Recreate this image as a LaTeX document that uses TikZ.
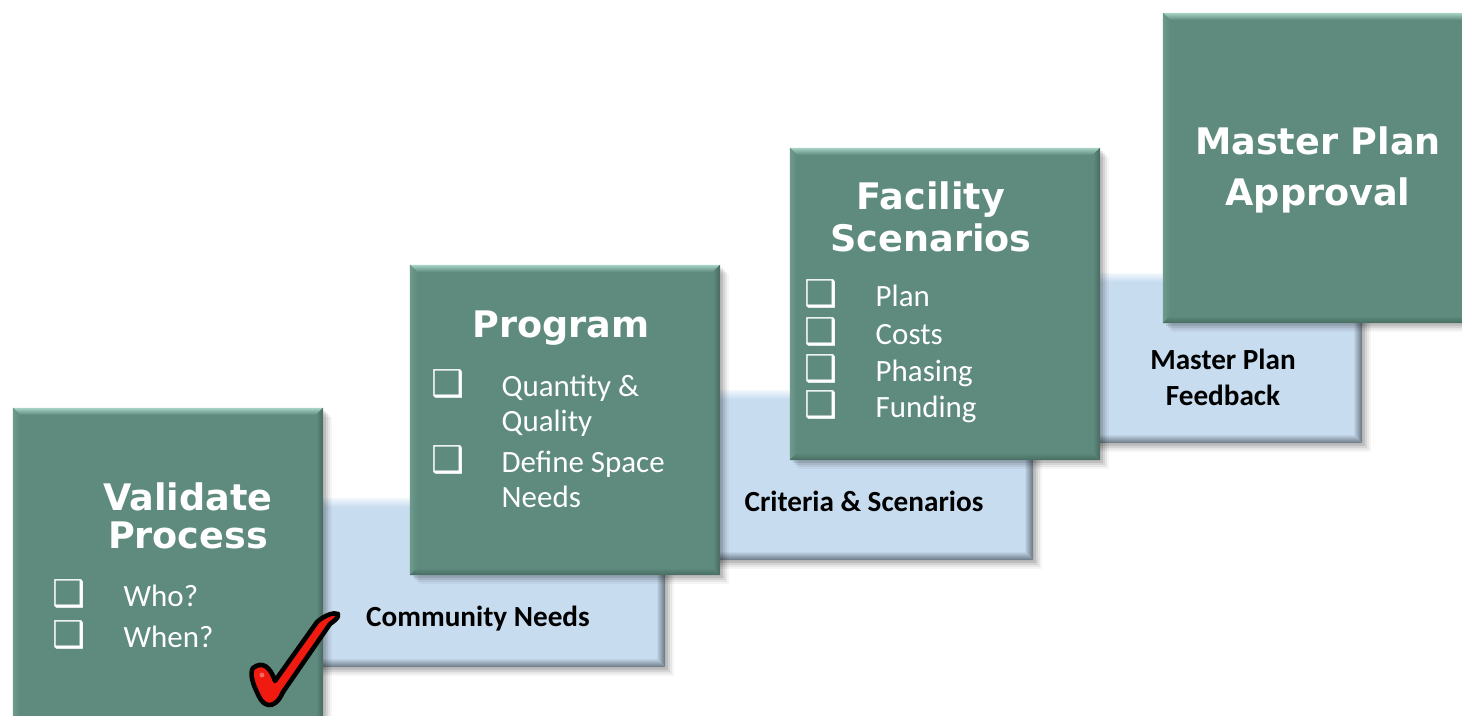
\documentclass[tikz,border=0pt]{standalone}
\usepackage{fontspec}
\setmainfont{Carlito}
\newfontfamily\vfont{DejaVu Sans}
\newfontfamily\dvs{DejaVu Sans}
\definecolor{gmain}{HTML}{5E8B7E}
\definecolor{gtop}{HTML}{A6D3C6}
\definecolor{gleft}{HTML}{6D9A8D}
\definecolor{gright}{HTML}{49695F}
\definecolor{gbot}{HTML}{486C61}
\definecolor{bmain}{HTML}{C8DCF0}
\definecolor{btop}{HTML}{F2F8FD}
\definecolor{bleft}{HTML}{DCE9F6}
\definecolor{bright}{HTML}{66737E}
\definecolor{bbot}{HTML}{6A7782}
\definecolor{chkred}{HTML}{F01A10}
\tikzset{
  boxshape/.style={rectangle, inner sep=0pt, outer sep=0pt},
  ttl/.style={text=white, align=center, font=\vfont\bfseries\fontsize{10.4}{10.8}\selectfont},
  itm/.style={text=white, anchor=base west, inner sep=0pt, font=\fontsize{8.8}{10}\selectfont},
  chk/.style={text=white, anchor=base west, inner sep=0pt, font=\dvs\fontsize{10.5}{12}\selectfont},
  lbl/.style={text=black, align=center, font=\bfseries\fontsize{8.3}{10.2}\selectfont},
}
\newcommand\softshadow[1]{%
  \foreach \s/\o in {0.03/0.10,0.05/0.08,0.07/0.06,0.09/0.04}{%
    \fill[black, opacity=\o] ([shift={(\s cm,-\s cm)}]#1.south west) rectangle ([shift={(\s cm,-\s cm)}]#1.north east);}}
\newcommand\bevelbox[7]{% name, width, main, top, left, right, bottom
  \softshadow{#1}
  \fill[#3] (#1.south west) rectangle (#1.north east);
  \shade[top color=#4, bottom color=#3] (#1.north west) -- (#1.north east) -- ([shift={(-#2,-#2)}]#1.north east) -- ([shift={(#2,-#2)}]#1.north west) -- cycle;
  \shade[left color=#5, right color=#3] (#1.north west) -- ([shift={(#2,-#2)}]#1.north west) -- ([shift={(#2,#2)}]#1.south west) -- (#1.south west) -- cycle;
  \shade[left color=#3, right color=#6] (#1.north east) -- ([shift={(-#2,-#2)}]#1.north east) -- ([shift={(-#2,#2)}]#1.south east) -- (#1.south east) -- cycle;
  \shade[top color=#3, bottom color=#7] (#1.south west) -- ([shift={(#2,#2)}]#1.south west) -- ([shift={(-#2,#2)}]#1.south east) -- (#1.south east) -- cycle;
}
\newcommand\gbox[1]{\bevelbox{#1}{0.07cm}{gmain}{gtop}{gleft}{gright}{gbot}}
\newcommand\bbar[1]{\bevelbox{#1}{0.09cm}{bmain}{btop}{bleft}{bright}{bbot}}
\begin{document}
\begin{tikzpicture}[x=0.01cm, y=-0.01cm]
\useasboundingbox (0,0) rectangle (1462,716);
\clip (0,0) rectangle (1462,716);
\fill[white] (0,0) rectangle (1462,716);
% geometry
\path node[boxshape, minimum width=3.65cm, minimum height=1.69cm] (community) at (482.5,582.5) {};
\path node[boxshape, minimum width=3.33cm, minimum height=1.70cm] (criteria) at (866.5,475) {};
\path node[boxshape, minimum width=2.82cm, minimum height=1.70cm] (feedback) at (1221,358) {};
\path node[boxshape, minimum width=3.10cm, minimum height=3.22cm] (validate) at (168,569) {};
\path node[boxshape, minimum width=3.10cm, minimum height=3.10cm] (program) at (565,420) {};
\path node[boxshape, minimum width=3.10cm, minimum height=3.12cm] (facility) at (945,304) {};
\path node[boxshape, minimum width=3.12cm, minimum height=3.10cm] (approval) at (1319,168) {};
% bars
\bbar{community}
\bbar{criteria}
\bbar{feedback}
% green boxes
\gbox{validate}
\gbox{program}
\gbox{facility}
\gbox{approval}
% bar labels
\node[lbl] (lcommunity) at (478,619) {Community Needs};
\node[lbl] (lcriteria) at (864,501) {Criteria \& Scenarios};
\node[lbl] (lfeedback) at (1223,377) {Master Plan\\Feedback};
% titles
\node[ttl] (tvalidate) at (188,516) {Validate\\Process};
\node[ttl] (tprogram) at (561,328) {Program};
\node[ttl, font=\vfont\bfseries\fontsize{10.4}{12}\selectfont] (tfacility) at (931,217) {Facility\\Scenarios};
\node[ttl, font=\vfont\bfseries\fontsize{10.4}{14.5}\selectfont] (tapproval) at (1318,170) {Master Plan\\Approval};
% validate items
\node[chk] (cv1) at (52,607) {❑};
\node[itm] (v1) at (123,607) {Who?};
\node[chk] (cv2) at (52,648) {❑};
\node[itm] (v2) at (123,648) {When?};
% program items
\node[chk] (cp1) at (431,397) {❑};
\node[itm] (p1a) at (501,397) {Quantity \&};
\node[itm] (p1b) at (501,432) {Quality};
\node[chk] (cp2) at (431,473) {❑};
\node[itm] (p2a) at (501,473) {Define Space};
\node[itm] (p2b) at (501,508) {Needs};
% facility items
\node[chk] (cf1) at (804,307) {❑};
\node[itm] (f1) at (875,307) {Plan};
\node[chk] (cf2) at (804,345) {❑};
\node[itm] (f2) at (875,345) {Costs};
\node[chk] (cf3) at (804,382) {❑};
\node[itm] (f3) at (875,382) {Phasing};
\node[chk] (cf4) at (804,418) {❑};
\node[itm] (f4) at (875,418) {Funding};
% check mark
\filldraw[fill=chkred, draw=black, line width=1.3pt, line join=round]
  (253,668) .. controls (262,661) and (270,666) .. (275,681)
  -- (317,622) .. controls (325,615) and (334,612) .. (338,614)
  .. controls (339,618) and (334,621) .. (330,624)
  -- (283,692) .. controls (279,701) and (274,706) .. (268,705)
  .. controls (262,704) and (259,697) .. (256,690)
  .. controls (252,682) and (250,672) .. (253,668) -- cycle;
\fill[white, opacity=0.35] (262,675) circle (2.4);
\end{tikzpicture}
\end{document}
